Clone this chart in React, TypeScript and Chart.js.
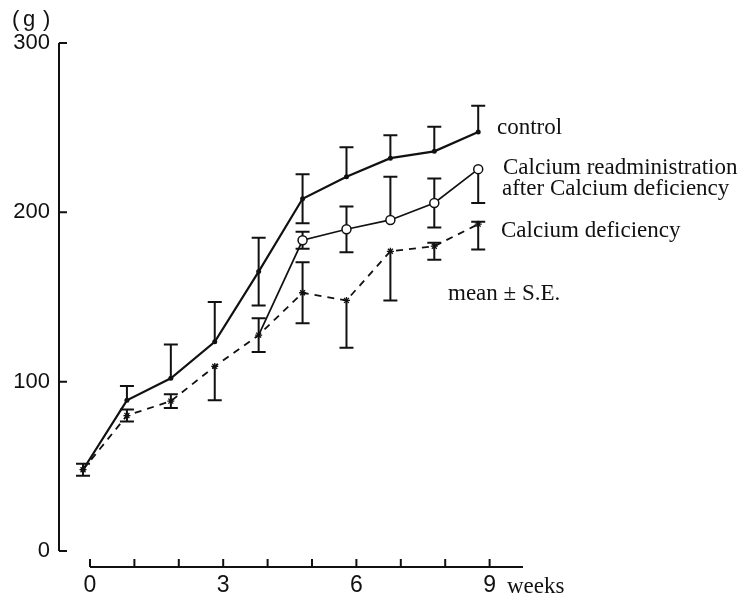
import React, { useEffect, useRef } from "react";
import { Chart, registerables } from "chart.js";

Chart.register(...registerables);

// ---- data ----
const weeks = [0, 1, 2, 3, 4, 5, 6, 7, 8, 9];
const weekTickLabels = [0, 3, 6, 9];
const yTicks = [0, 100, 200, 300];

const control = [48, 89, 102, 123.5, 165, 208, 221, 232, 236, 247.5];
const controlSEUp = [3.5, 8.5, 20, 23.5, 20, 14.5, 17.5, 13.5, 14.5, 15.5];
const controlSEDown = [3.5, 0, 0, 0, 20, 14.5, 0, 0, 0, 0];

const readmin = [null, null, null, null, 127.5, 183.5, 190, 195.5, 205.5, 225.5];
const readminSEUp = [0, 0, 0, 0, 0, 5, 13.5, 25.5, 14.5, 0];
const readminSEDown = [0, 0, 0, 0, 0, 5, 13.5, 0, 14.5, 20];

const deficiency = [48, 80, 88.5, 109, 127.5, 152.5, 148, 177, 180, 193];
const deficiencySEUp = [0, 3.5, 4, 0, 10, 18, 0, 0, 2, 1.5];
const deficiencySEDown = [0, 3.5, 4, 20, 10, 18, 28, 29, 8, 15];

const seriesLabels = ["control", "Calcium readministration after Calcium deficiency", "Calcium deficiency"];

const SANS = "'Liberation Sans', Arial, sans-serif";
const SERIF = "'Liberation Serif', 'Times New Roman', serif";
const INK = "#111";

const errorBarsPlugin = {
  id: "errorBars",
  beforeDatasetsDraw(chart: any) {
    const ctx = chart.ctx;
    const xs = chart.scales.x;
    const ys = chart.scales.y;
    chart.data.datasets.forEach((ds: any, di: number) => {
      if (!chart.isDatasetVisible(di)) return;
      const up: number[] = ds.seUp || [];
      const down: number[] = ds.seDown || [];
      ds.data.forEach((pt: any, i: number) => {
        if (pt == null || pt.y == null) return;
        const px = xs.getPixelForValue(pt.x);
        const py = ys.getPixelForValue(pt.y);
        ctx.save();
        ctx.strokeStyle = INK;
        ctx.lineWidth = 2;
        ctx.setLineDash([]);
        const cap = 7;
        if (up[i]) {
          const ty = ys.getPixelForValue(pt.y + up[i]);
          ctx.beginPath();
          ctx.moveTo(px, py);
          ctx.lineTo(px, ty);
          ctx.moveTo(px - cap, ty);
          ctx.lineTo(px + cap, ty);
          ctx.stroke();
        }
        if (down[i]) {
          const by = ys.getPixelForValue(pt.y - down[i]);
          ctx.beginPath();
          ctx.moveTo(px, py);
          ctx.lineTo(px, by);
          ctx.moveTo(px - cap, by);
          ctx.lineTo(px + cap, by);
          ctx.stroke();
        }
        ctx.restore();
      });
    });
  },
};

const axesPlugin = {
  id: "handAxes",
  afterDraw(chart: any) {
    const ctx = chart.ctx;
    const area = chart.chartArea;
    const ys = chart.scales.y;
    const xw = chart.scales.xw;
    ctx.save();
    ctx.strokeStyle = INK;
    ctx.lineWidth = 2;
    ctx.setLineDash([]);
    // y axis line with inward ticks
    ctx.beginPath();
    ctx.moveTo(area.left, ys.getPixelForValue(yTicks[yTicks.length - 1]));
    ctx.lineTo(area.left, ys.getPixelForValue(yTicks[0]));
    yTicks.forEach((v) => {
      const py = ys.getPixelForValue(v);
      ctx.moveTo(area.left, py);
      ctx.lineTo(area.left + 8, py);
    });
    ctx.stroke();
    // x axis: detached line below with upward ticks
    const ax = area.bottom + 16;
    ctx.beginPath();
    ctx.moveTo(xw.getPixelForValue(weeks[0]), ax);
    ctx.lineTo(area.right, ax);
    weeks.forEach((w) => {
      const px = xw.getPixelForValue(w);
      ctx.moveTo(px, ax);
      ctx.lineTo(px, ax - 8);
    });
    ctx.stroke();

    // texts
    ctx.fillStyle = INK;
    ctx.textAlign = "left";
    ctx.textBaseline = "alphabetic";
    ctx.font = `22px ${SANS}`;
    ctx.fillText("(", 12, 26);
    ctx.fillText("g", 23, 26);
    ctx.fillText(")", 43, 26);
    ctx.font = `23px ${SERIF}`;
    ctx.fillText(seriesLabels[0], 497, 134);
    ctx.fillText("Calcium readministration", 503, 174);
    ctx.fillText("after Calcium deficiency", 502, 195);
    ctx.fillText(seriesLabels[2], 501, 237);
    ctx.fillText("mean ± S.E.", 448, 300);
    ctx.fillText("weeks", 507, 593);
    ctx.restore();
  },
};

export default function App() {
  const ref = useRef<HTMLCanvasElement>(null);
  useEffect(() => {
    if (!ref.current) return;
    const pts = (arr: (number | null)[]) => weeks.map((w, i) => ({ x: w, y: arr[i] }));
    const chart = new Chart(ref.current, {
      type: "line",
      data: {
        datasets: [
          {
            label: seriesLabels[0],
            data: pts(control),
            seUp: controlSEUp,
            seDown: controlSEDown,
            borderColor: INK,
            backgroundColor: INK,
            borderWidth: 2.2,
            pointRadius: 2.5,
            pointBorderWidth: 0,
            pointStyle: "circle",
            tension: 0,
          } as any,
          {
            label: seriesLabels[1],
            data: pts(readmin),
            seUp: readminSEUp,
            seDown: readminSEDown,
            borderColor: INK,
            backgroundColor: "#fff",
            borderWidth: 1.7,
            pointRadius: weeks.map((w, i) => (i <= 4 ? 0 : 4.5)),
            pointBorderWidth: 1.5,
            pointBorderColor: INK,
            pointBackgroundColor: "#fff",
            pointStyle: "circle",
            tension: 0,
            spanGaps: false,
          } as any,
          {
            label: seriesLabels[2],
            data: pts(deficiency),
            seUp: deficiencySEUp,
            seDown: deficiencySEDown,
            borderColor: INK,
            backgroundColor: INK,
            borderWidth: 1.8,
            borderDash: [7, 6],
            pointRadius: 3.5,
            pointBorderWidth: 1.3,
            pointStyle: "star",
            tension: 0,
          } as any,
        ],
      },
      options: {
        responsive: false,
        animation: false,
        layout: { padding: { left: 0, top: 43, right: 218, bottom: 0 } },
        plugins: { legend: { display: false }, tooltip: { enabled: false } },
        scales: {
          x: {
            type: "linear",
            display: false,
            min: -0.547,
            max: 10.02,
          },
          xw: {
            type: "linear",
            position: "bottom",
            min: -0.698,
            max: 9.752,
            afterBuildTicks: (s: any) => {
              s.ticks = weeks.map((w) => ({ value: w }));
            },
            afterFit: (s: any) => {
              s.height = 47;
            },
            grid: { display: false, drawTicks: false },
            border: { display: false },
            ticks: {
              autoSkip: false,
              maxRotation: 0,
              padding: 21,
              color: INK,
              font: { family: SANS, size: 23 },
              callback: (v: any) => (weekTickLabels.includes(Number(v)) ? String(v) : ""),
            },
          },
          y: {
            type: "linear",
            min: 0,
            max: 300,
            afterBuildTicks: (s: any) => {
              s.ticks = yTicks.map((v) => ({ value: v }));
            },
            afterFit: (s: any) => {
              s.width = 59;
            },
            grid: { display: false, drawTicks: false },
            border: { display: false },
            ticks: {
              padding: 9,
              color: INK,
              font: { family: SANS, size: 22 },
            },
          },
        },
      } as any,
      plugins: [errorBarsPlugin, axesPlugin],
    });
    return () => chart.destroy();
  }, []);
  return (
    <div style={{ position: "fixed", left: 0, top: 0, width: 741, height: 598, background: "#fff" }}>
      <canvas ref={ref} width={741} height={598} style={{ width: 741, height: 598, display: "block" }} />
    </div>
  );
}
